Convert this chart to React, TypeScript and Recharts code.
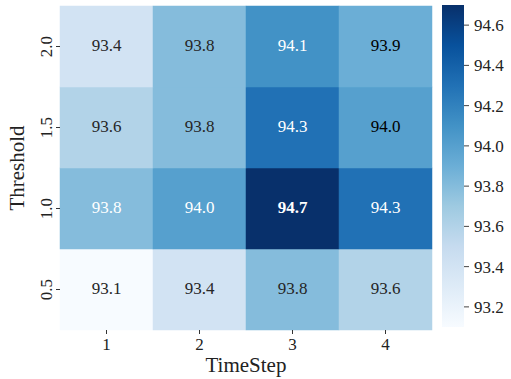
import React from 'react';
import { BarChart, Bar, XAxis, YAxis, Label } from 'recharts';

// ---- data ----
const timeSteps = ['1', '2', '3', '4'];
const thresholds = ['0.5', '1.0', '1.5', '2.0']; // bottom -> top
const acc_t05 = [93.1, 93.4, 93.8, 93.6];
const acc_t10 = [93.8, 94.0, 94.7, 94.3];
const acc_t15 = [93.6, 93.8, 94.3, 94.0];
const acc_t20 = [93.4, 93.8, 94.1, 93.9];
const colorbarTicks = [93.2, 93.4, 93.6, 93.8, 94.0, 94.2, 94.4, 94.6];
const vMin = 93.1;
const vMax = 94.7;

// ---- annotation styles (per cell): 'd' dark, 'k' black, 'w' white, 'W' bold white ----
const ink_t05 = ['d', 'd', 'd', 'd'];
const ink_t10 = ['w', 'w', 'W', 'w'];
const ink_t15 = ['d', 'd', 'w', 'k'];
const ink_t20 = ['d', 'd', 'w', 'k'];

const FONT = '"Liberation Serif", "Times New Roman", serif';
const INK = '#222222';
const BLUES = ['#f7fbff', '#deebf7', '#c6dbef', '#9ecae1', '#6baed6', '#4292c6', '#2171b5', '#08519c', '#08306b'];

function hexToRgb(h: string) {
  return [parseInt(h.slice(1, 3), 16), parseInt(h.slice(3, 5), 16), parseInt(h.slice(5, 7), 16)];
}
function blues(v: number) {
  let t = (v - vMin) / (vMax - vMin);
  t = Math.max(0, Math.min(1, t));
  const p = t * 8;
  const i = Math.min(7, Math.floor(p));
  const f = p - i;
  const a = hexToRgb(BLUES[i]);
  const b = hexToRgb(BLUES[i + 1]);
  const c = a.map((x, k) => Math.round(x + (b[k] - x) * f));
  return `rgb(${c[0]},${c[1]},${c[2]})`;
}

const rows = [
  { key: 't05', values: acc_t05, ink: ink_t05 },
  { key: 't10', values: acc_t10, ink: ink_t10 },
  { key: 't15', values: acc_t15, ink: ink_t15 },
  { key: 't20', values: acc_t20, ink: ink_t20 },
];

const chartData = timeSteps.map((s, i) => {
  const d: any = { step: s };
  rows.forEach((r) => {
    d[r.key] = 1;
    d['v_' + r.key] = r.values[i];
  });
  return d;
});

const colorbarData = [{ name: 'cb', range: [vMin, vMax] }];

function inkStyle(code: string) {
  switch (code) {
    case 'w':
      return { fill: '#ffffff', weight: 400 };
    case 'W':
      return { fill: '#ffffff', weight: 700 };
    case 'k':
      return { fill: '#000000', weight: 400 };
    default:
      return { fill: '#262626', weight: 400 };
  }
}

function makeCellShape(row: { key: string; values: number[]; ink: string[] }) {
  return (props: any) => {
    const { x, y, width, height, index } = props;
    const v = row.values[index];
    const fill = blues(v);
    const cx = x + width / 2;
    const cy = y + height / 2;
    const st = inkStyle(row.ink[index]);
    return (
      <g>
        <rect x={x} y={y} width={width} height={height} fill={fill} stroke={fill} strokeWidth={0.5} />
        <text
          x={cx}
          y={cy + 4}
          textAnchor="middle"
          fontFamily={FONT}
          fontSize={17}
          fontWeight={st.weight}
          fill={st.fill}
        >
          {v.toFixed(1)}
        </text>
      </g>
    );
  };
}

const YTick = (props: any) => {
  const { x, y, payload } = props;
  const idx = Math.round(payload.value - 0.5);
  const bx = x - 2;
  return (
    <text
      x={bx}
      y={y}
      transform={`rotate(-90, ${bx}, ${y})`}
      textAnchor="middle"
      fontFamily={FONT}
      fontSize={17}
      fill={INK}
    >
      {thresholds[idx]}
    </text>
  );
};

const XLabel = (props: any) => {
  const vb = props.viewBox;
  return (
    <text x={vb.x + vb.width / 2} y={vb.y + vb.height + 12} textAnchor="middle" fontFamily={FONT} fontSize={21} fill={INK}>
      TimeStep
    </text>
  );
};

const YLabel = (props: any) => {
  const vb = props.viewBox;
  const bx = vb.x + 24;
  const cy = vb.y + vb.height / 2;
  return (
    <text x={bx} y={cy} transform={`rotate(-90, ${bx}, ${cy})`} textAnchor="middle" fontFamily={FONT} fontSize={21} fill={INK}>
      Threshold
    </text>
  );
};

const ColorbarShape = (props: any) => {
  const { x, y, width, height } = props;
  return (
    <g>
      <defs>
        <linearGradient id="bluesGrad" x1="0" y1="1" x2="0" y2="0">
          {BLUES.map((c, i) => (
            <stop key={i} offset={i / 8} stopColor={c} />
          ))}
        </linearGradient>
      </defs>
      <rect x={x} y={y} width={width} height={height} fill="url(#bluesGrad)" />
    </g>
  );
};

export default function App() {
  return (
    <div style={{ position: 'absolute', left: 0, top: 0, width: 511, height: 379, background: '#fff' }}>
      <div style={{ position: 'absolute', left: 0, top: 0 }}>
        <BarChart
          width={440}
          height={379}
          data={chartData}
          margin={{ top: 6, right: 8, bottom: 19, left: 0 }}
          barCategoryGap={0}
          barGap={0}
        >
          <XAxis
            dataKey="step"
            type="category"
            height={30}
            axisLine={false}
            tickLine={{ stroke: '#333', strokeWidth: 1 }}
            tickSize={4}
            tickMargin={4}
            tick={{ fontFamily: FONT, fontSize: 17, fill: INK }}
            padding={{ left: 0, right: 0 }}
          >
            <Label content={<XLabel />} />
          </XAxis>
          <YAxis
            type="number"
            domain={[0, 4]}
            ticks={[0.5, 1.5, 2.5, 3.5]}
            width={60}
            axisLine={false}
            tickLine={{ stroke: '#333', strokeWidth: 1 }}
            tickSize={4}
            tickMargin={2}
            tick={<YTick />}
            interval={0}
          >
            <Label content={<YLabel />} />
          </YAxis>
          {rows.map((r) => (
            <Bar key={r.key} dataKey={r.key} stackId="h" isAnimationActive={false} shape={makeCellShape(r)} />
          ))}
        </BarChart>
      </div>
      <div style={{ position: 'absolute', left: 440, top: 0 }}>
        <BarChart
          width={71}
          height={379}
          data={colorbarData}
          margin={{ top: 5, right: 0, bottom: 52, left: 2 }}
          barCategoryGap={0}
          barGap={0}
        >
          <XAxis dataKey="name" hide />
          <YAxis
            orientation="right"
            type="number"
            domain={[vMin, vMax]}
            ticks={colorbarTicks}
            width={47}
            axisLine={false}
            tickLine={{ stroke: '#444', strokeWidth: 1 }}
            tickSize={5}
            tickMargin={5}
            interval={0}
            allowDataOverflow
            tickFormatter={(v: number) => v.toFixed(1)}
            tick={{ fontFamily: FONT, fontSize: 17, fill: INK }}
          />
          <Bar dataKey="range" isAnimationActive={false} shape={<ColorbarShape />} />
        </BarChart>
      </div>
    </div>
  );
}
